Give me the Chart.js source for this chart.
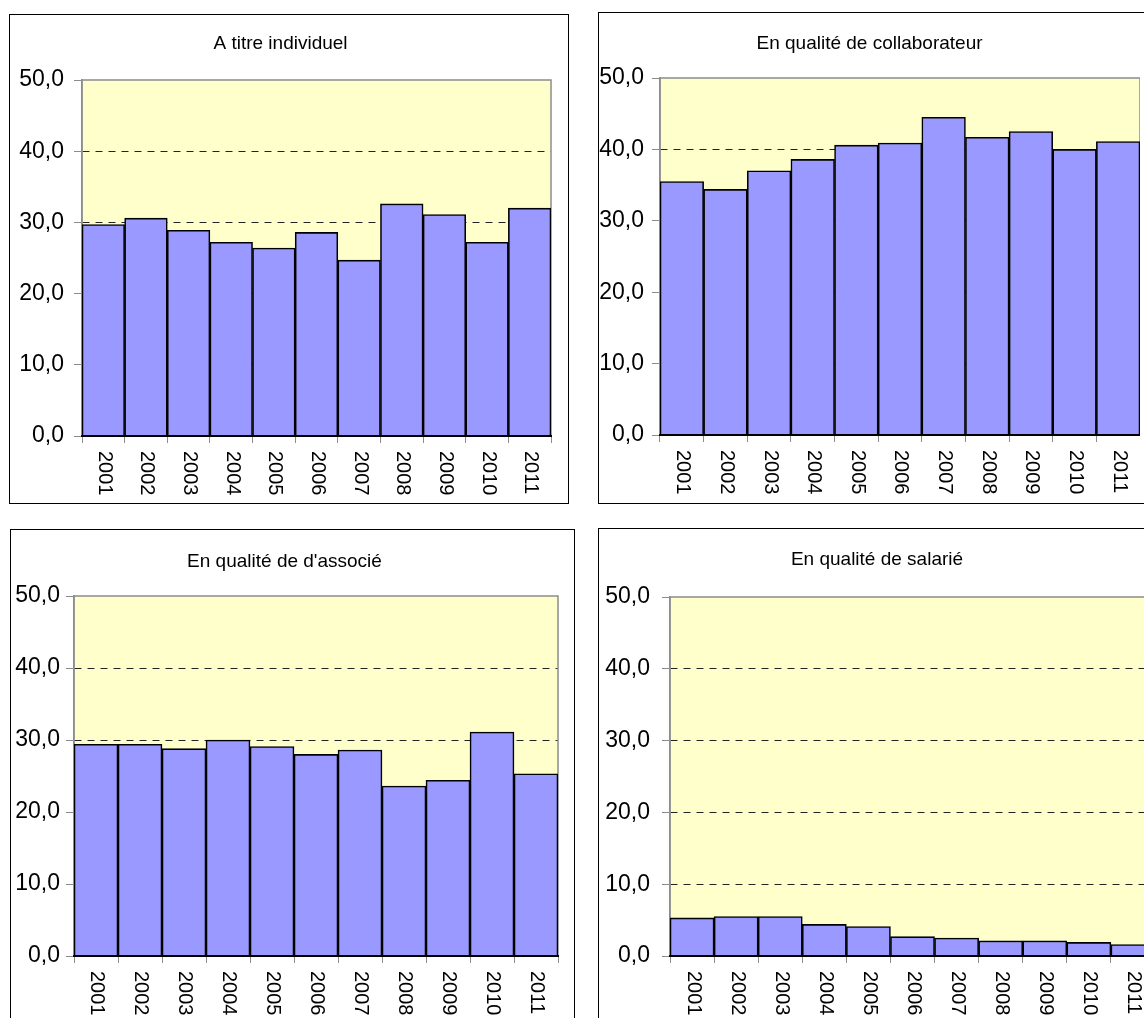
<!DOCTYPE html>
<html>
<head>
<meta charset="utf-8">
<script src="https://cdn.jsdelivr.net/npm/chart.js@4"></script>
<style>
  body { margin: 0; width: 1144px; height: 1018px; overflow: hidden; background: #fff; position: relative; }
  .panel { position: absolute; box-sizing: border-box; border: 1px solid #000; background: #fff; }
  .panel canvas { position: absolute; left: 0; top: 0; }
</style>
</head>
<body>
<div class="panel" id="p1" style="left:9px;top:14px;width:560px;height:490px"><canvas id="c1" width="557" height="487"></canvas></div>
<div class="panel" id="p2" style="left:598px;top:12px;width:600px;height:492px"><canvas id="c2" width="541" height="490"></canvas></div>
<div class="panel" id="p3" style="left:10px;top:529px;width:565px;height:520px"><canvas id="c3" width="563" height="518"></canvas></div>
<div class="panel" id="p4" style="left:598px;top:528px;width:600px;height:520px"><canvas id="c4" width="562" height="518"></canvas></div>
<script>
const years = ['2001', '2002', '2003', '2004', '2005', '2006', '2007', '2008', '2009', '2010', '2011'];
const yTicks = [0, 10, 20, 30, 40, 50];

const individuel = [29.7, 30.6, 28.9, 27.2, 26.4, 28.6, 24.7, 32.6, 31.1, 27.2, 32.0];
const collaborateur = [35.5, 34.4, 37.0, 38.6, 40.6, 40.9, 44.5, 41.7, 42.5, 40.0, 41.1];
const associe = [29.4, 29.4, 28.8, 30.0, 29.1, 28.0, 28.6, 23.6, 24.4, 31.1, 25.3];
const salarie = [5.3, 5.5, 5.5, 4.4, 4.1, 2.7, 2.5, 2.1, 2.1, 1.9, 1.6];

const titles = ['A titre individuel', 'En qualité de collaborateur', "En qualité de d'associé", 'En qualité de salarié'];

// yellow plot background + grey frame
const plotArea = {
    id: 'plotArea',
    beforeDraw(chart) {
        const a = chart.chartArea;
        const ctx = chart.ctx;
        ctx.save();
        ctx.fillStyle = '#FFFFCC';
        ctx.fillRect(a.left, a.top, a.right - a.left, a.bottom - a.top);
        ctx.restore();
    },
    beforeDatasetsDraw(chart) {
        const a = chart.chartArea;
        const ctx = chart.ctx;
        ctx.save();
        ctx.strokeStyle = '#8c8c8c';
        ctx.lineWidth = 1.5;
        ctx.strokeRect(a.left, a.top, a.right - a.left, a.bottom - a.top);
        ctx.restore();
    }
};

// year labels turned a quarter clockwise
const yearLabels = {
    id: 'yearLabels',
    afterDraw(chart) {
        const x = chart.scales.x;
        const ctx = chart.ctx;
        ctx.save();
        ctx.fillStyle = '#000';
        ctx.font = '20px "Liberation Sans", Arial, sans-serif';
        ctx.textAlign = 'left';
        ctx.textBaseline = 'middle';
        chart.data.labels.forEach((lab, i) => {
            ctx.save();
            ctx.translate(x.getPixelForValue(i) + 1, chart.chartArea.bottom + 15);
            ctx.rotate(Math.PI / 2);
            ctx.fillText(lab, 0, 0);
            ctx.restore();
        });
        ctx.restore();
    }
};

function drawPanel(canvasId, title, values, lay) {
    const ctx = document.getElementById(canvasId).getContext('2d');
    return new Chart(ctx, {
        type: 'bar',
        data: {
            labels: years,
            datasets: [{
                data: values,
                backgroundColor: '#9999FF',
                borderColor: '#000',
                borderWidth: 1.6,
                barPercentage: 1,
                categoryPercentage: 1
            }]
        },
        options: {
            responsive: false,
            animation: false,
            devicePixelRatio: 1,
            layout: { padding: { left: 0, right: lay.padR, top: 0, bottom: 0 } },
            plugins: {
                legend: { display: false },
                tooltip: { enabled: false },
                title: {
                    display: true,
                    text: title,
                    color: '#000',
                    font: { family: '"Liberation Sans", Arial, sans-serif', size: 19, weight: 'normal', lineHeight: 1.2 },
                    padding: { top: lay.tTop, bottom: lay.tBot }
                }
            },
            scales: {
                x: {
                    offset: true,
                    afterFit: s => { s.height = lay.xH; },
                    ticks: { display: false },
                    grid: { offset: true, drawOnChartArea: false, drawTicks: true, tickLength: 7, color: '#8c8c8c', lineWidth: 1 },
                    border: { display: true, color: '#000', width: 2, z: 1 }
                },
                y: {
                    min: 0,
                    max: 50,
                    afterFit: s => { s.width = lay.yW; },
                    afterBuildTicks: s => { s.ticks = yTicks.map(v => ({ value: v })); },
                    ticks: {
                        color: '#000',
                        padding: lay.tickPad,
                        font: { family: '"Liberation Sans", Arial, sans-serif', size: 23 },
                        callback: v => v.toFixed(1).replace('.', ',')
                    },
                    grid: {
                        color: c => (c.tick && (c.tick.value === 0 || c.tick.value === 50)) ? 'rgba(0,0,0,0)' : '#222',
                        lineWidth: 1,
                        drawTicks: true,
                        tickLength: 8,
                        tickColor: '#8c8c8c',
                        tickBorderDash: [0, 0]
                    },
                    border: { display: true, color: '#8c8c8c', width: 1.5, dash: [7, 6] }
                }
            }
        },
        plugins: [plotArea, yearLabels]
    });
}

drawPanel('c1', titles[0], individuel, { yW: 72, padR: 16, tTop: 17.6, tBot: 24.6, xH: 66, tickPad: 10 });
drawPanel('c2', titles[1], collaborateur, { yW: 61, padR: 0, tTop: 19.6, tBot: 22.6, xH: 68, tickPad: 8 });
drawPanel('c3', titles[2], associe, { yW: 63, padR: 16, tTop: 20.6, tBot: 22.6, xH: 92, tickPad: 6 });
drawPanel('c4', titles[3], salarie, { yW: 71, padR: 6, tTop: 19.6, tBot: 25.6, xH: 91, tickPad: 12 });
</script>
</body>
</html>
